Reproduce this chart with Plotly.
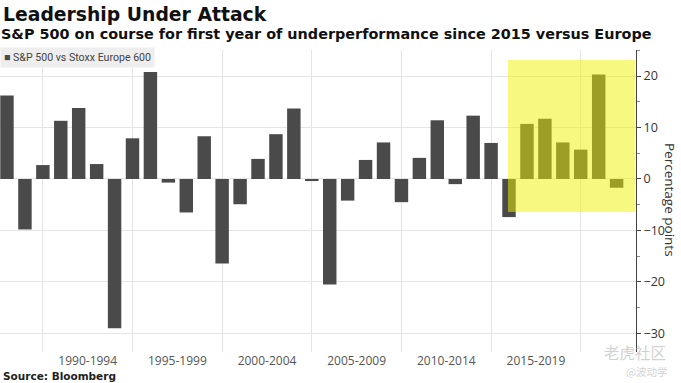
import plotly.graph_objects as go

# ---- data ----
years = list(range(1987, 2022))
spx_vs_stoxx = [16.2, -9.8, 2.7, 11.3, 13.8, 2.9, -29.0, 7.9, 20.8, -0.7,
                -6.5, 8.3, -16.4, -4.9, 3.9, 8.7, 13.7, -0.4, -20.5, -4.2,
                3.7, 7.1, -4.5, 4.1, 11.4, -1.0, 12.3, 7.0, -7.4, 10.7,
                11.7, 7.1, 5.7, 20.3, -1.7]
period_labels = ["1990-1994", "1995-1999", "2000-2004", "2005-2009", "2010-2014", "2015-2019"]
period_starts = [1990, 1995, 2000, 2005, 2010, 2015]
grid_years = [1990, 1995, 2000, 2005, 2010, 2015, 2020]
y_ticks = [-30, -20, -10, 0, 10, 20]
series_name = "S&P 500 vs Stoxx Europe 600"

# bars dated at year end, as in the source chart
bar_dates = [f"{y}-12-31" for y in years]
label_dates = [f"{s + 2}-07-02" for s in period_starts]
grid_dates = [f"{g}-01-01" for g in grid_years]
YEAR_MS = 365.25 * 24 * 3600 * 1000

BAR = "#4a4a4a"
GRID = "#e4e4e4"

PL, PR, PT, PB = 0, 636, 50, 352   # plot area in pixels
def px(x):
    return (x - PL) / (PR - PL)
def py(y):
    return (PB - y) / (PB - PT)

fig = go.Figure()
fig.add_trace(go.Bar(
    x=bar_dates, y=spx_vs_stoxx, name=series_name,
    marker=dict(color=BAR, line=dict(width=0)),
    width=0.75 * YEAR_MS, showlegend=False,
))

fig.update_layout(
    width=681, height=383,
    margin=dict(l=PL, r=681 - PR, t=PT, b=383 - PB, autoexpand=False),
    paper_bgcolor="white", plot_bgcolor="white",
    font=dict(family="Open Sans, DejaVu Sans, sans-serif", color="#333"),
    showlegend=False,
)

fig.update_xaxes(
    type="date", automargin=False,
    range=["1987-08-11", "2023-01-30"],
    tickmode="array", tickvals=label_dates, ticktext=period_labels,
    showgrid=False, ticks="", showline=False, zeroline=False,
    tickfont=dict(family="Open Sans, sans-serif", size=12, color="#555"),
    minor=dict(tickmode="array", tickvals=grid_dates, showgrid=True,
               gridcolor=GRID, gridwidth=1, ticks=""),
)

fig.update_yaxes(
    side="right", automargin=False, range=[-33.6, 25.05],
    tickmode="array", tickvals=y_ticks,
    showgrid=True, gridcolor=GRID, gridwidth=1,
    zeroline=False,
    showline=True, linecolor="#444", linewidth=1,
    ticks="outside", ticklen=4, tickcolor="#444",
    tickfont=dict(family="Open Sans, sans-serif", size=12.5, color="#333"),
    minor=dict(dtick=5, tick0=-25, ticks="outside", ticklen=3, tickcolor="#888", showgrid=False),
)

# highlighted period
fig.add_shape(type="rect", xref="x", yref="y",
              x0="2015-12-10", x1="2023-01-10", y0=-6.4, y1=23.1,
              fillcolor="rgba(240,242,0,0.5)", line=dict(width=0), layer="above")

# legend box (series key)
fig.add_annotation(text=f"<span style='color:{BAR}'>■</span> {series_name}",
                   xref="paper", yref="paper", x=px(0), y=py(57.5),
                   xanchor="left", yanchor="middle", showarrow=False,
                   bgcolor="#eeeeee", borderpad=3,
                   font=dict(family="Roboto, sans-serif", size=10.6, color="#444"))

# titles and notes
fig.add_annotation(text="<b>Leadership Under Attack</b>", xref="paper", yref="paper",
                   x=px(1), y=py(15), xanchor="left", yanchor="middle",
                   showarrow=False, font=dict(family="DejaVu Sans", size=18.8, color="#111"))
fig.add_annotation(text="<b>S&P 500 on course for first year of underperformance since 2015 versus Europe</b>",
                   xref="paper", yref="paper",
                   x=px(-1), y=py(34), xanchor="left", yanchor="middle",
                   showarrow=False, font=dict(family="DejaVu Sans", size=14.4, color="#111"))
fig.add_annotation(text="<b>Source: Bloomberg</b>", xref="paper", yref="paper",
                   x=px(1), y=py(376), xanchor="left", yanchor="middle",
                   showarrow=False, font=dict(family="DejaVu Sans", size=10.5, color="#222"))
fig.add_annotation(text="Percentage points", xref="paper", yref="paper",
                   x=px(670), y=py(200), xanchor="center", yanchor="middle",
                   textangle=90, showarrow=False,
                   font=dict(family="Open Sans, sans-serif", size=13.5, color="#333"))
# watermark of the source image
fig.add_annotation(text="老虎社区", xref="paper", yref="paper",
                   x=px(635), y=py(352), xanchor="center", yanchor="middle",
                   showarrow=False,
                   font=dict(family="Noto Sans CJK SC", size=15.5, color="rgba(170,170,170,0.55)"))
fig.add_annotation(text="@波动学", xref="paper", yref="paper",
                   x=px(646), y=py(371.5), xanchor="center", yanchor="middle",
                   showarrow=False,
                   font=dict(family="Noto Sans CJK SC", size=10.5, color="rgba(170,170,170,0.55)"))

fig.write_html("out.html", config={"displayModeBar": False},
               post_script="document.body.style.margin='0';document.body.style.overflow='hidden';")
